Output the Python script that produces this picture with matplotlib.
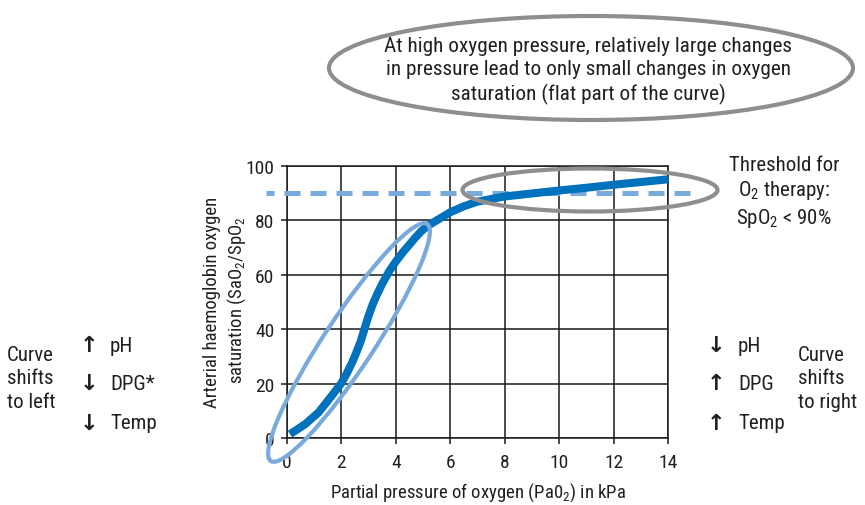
import matplotlib
matplotlib.use("Agg")
import matplotlib.pyplot as plt
from matplotlib.patches import Ellipse
from matplotlib import font_manager as fm

# pick the narrowest sans font available
entries = fm.fontManager.ttflist
names = {f.name for f in entries}
STRETCH = 'normal'
if 'Liberation Sans Narrow' in names:
    BASE = 'Liberation Sans Narrow'
elif 'Roboto Condensed' in names:
    BASE = 'Roboto Condensed'
elif any(f.name == 'DejaVu Sans' and str(f.stretch) in ('condensed', 'semi-condensed') for f in entries):
    BASE = 'DejaVu Sans'
    STRETCH = 'condensed'
elif any(f.name == 'Roboto' and str(f.stretch) in ('condensed', 'semi-condensed') for f in entries):
    BASE = 'Roboto'
    STRETCH = 'condensed'
else:
    BASE = 'Liberation Sans'
FONT = [BASE, 'DejaVu Sans']
plt.rcParams['font.family'] = FONT
plt.rcParams['font.stretch'] = STRETCH
plt.rcParams['mathtext.fontset'] = 'custom'
plt.rcParams['mathtext.rm'] = BASE
plt.rcParams['mathtext.it'] = BASE
plt.rcParams['mathtext.bf'] = BASE

# ---- data ----
pressure_kpa = [0.11, 0.67, 1.16, 1.65, 2.0, 2.2, 2.4, 2.55, 2.7, 2.89, 3.0, 3.14, 3.3,
                3.51, 3.75, 4.0, 4.25, 4.5, 4.7, 4.93, 5.2, 5.5, 6.0, 6.5, 7.0,
                8.0, 9.0, 10.0, 11.0, 12.0, 13.0, 14.0]
saturation = [1.4, 5.1, 9.4, 15.6, 20.2, 23.8, 27.9, 31.5, 35.3, 41.5, 45.0, 48.9, 52.6,
              56.9, 61.2, 64.9, 68.2, 71.1, 73.5, 76.0, 78.2, 80.0, 83.0, 85.2, 86.9,
              88.8, 89.9, 91.0, 92.0, 93.1, 94.1, 95.1]
threshold = 90
threshold_x = [-0.77, 14.92]
x_ticks = [0, 2, 4, 6, 8, 10, 12, 14]
y_ticks = [0, 20, 40, 60, 80, 100]

W, H = 865, 506
fig = plt.figure(figsize=(W / 100, H / 100), dpi=100)
fig.patch.set_facecolor('white')

L, R, T, B = 287, 668, 167, 439
ax = fig.add_axes([L / W, (H - B) / H, (R - L) / W, (B - T) / H])
ax.set_xlim(0, 14)
ax.set_ylim(0, 100)
ax.set_xticks(x_ticks)
ax.set_yticks(y_ticks)
ax.grid(True, color='#1a1a1a', linewidth=1.1)
ax.set_axisbelow(True)
for s in ax.spines.values():
    s.set_color('#1a1a1a')
    s.set_linewidth(1.1)
ax.tick_params(axis='both', direction='out', length=4, width=1.1, color='#1a1a1a',
               labelsize=14, labelcolor='#231f20')
ax.tick_params(axis='y', pad=5)
ax.tick_params(axis='x', pad=7)

ax.plot(threshold_x, [threshold, threshold], color='#7aaadc', linewidth=3.6,
        linestyle=(1.6, (3.2, 2.0)), dash_capstyle='butt', clip_on=False, zorder=3)
ax.plot(pressure_kpa, saturation, color='#0071bc', linewidth=5.8,
        solid_capstyle='butt', solid_joinstyle='round', clip_on=False, zorder=4)

# overlay in pixel coordinates (y up)
ov = fig.add_axes([0, 0, 1, 1], facecolor='none')
ov.set_xlim(0, W)
ov.set_ylim(0, H)
ov.axis('off')

def Y(y):
    return H - y

ov.add_patch(Ellipse((591, Y(69)), 524, 104, angle=0, fill=False,
                     edgecolor='#8e8e8e', linewidth=3.0))
ov.add_patch(Ellipse((590, Y(191)), 255, 43, angle=0, fill=False,
                     edgecolor='#8e8e8e', linewidth=3.0))
ov.add_patch(Ellipse((349, Y(343.5)), 284, 50, angle=56.6, fill=False,
                     edgecolor='#7aaadc', linewidth=3.0))

tc = '#231f20'
fs = 15
ov.text(588, Y(71), "At high oxygen pressure, relatively large changes\n"
        "in pressure lead to only small changes in oxygen\n"
        "saturation (flat part of the curve)", ha='center', va='center',
        fontsize=15.3, color=tc, linespacing=1.28)

ov.text(784, Y(193), "Threshold for\n$\\mathrm{O_2}$ therapy:\n$\\mathrm{SpO_2}$ < 90%",
        ha='center', va='center', fontsize=fs, color=tc, linespacing=1.25)

ov.text(7, Y(379), "Curve\nshifts\nto left", ha='left', va='center',
        fontsize=fs, color=tc, linespacing=1.28)
ov.text(798, Y(379), "Curve\nshifts\nto right", ha='left', va='center',
        fontsize=fs, color=tc, linespacing=1.28)

ARROWF = ['DejaVu Sans']
for (yy, arr, lab) in [(346, '↑', 'pH'), (384, '↓', 'DPG*'), (424, '↓', 'Temp')]:
    ov.text(80, Y(yy), arr, ha='left', va='center', fontsize=16, color=tc,
            family=ARROWF, fontweight='bold')
    ov.text(110, Y(yy), lab, ha='left', va='center', fontsize=fs, color=tc)
for (yy, arr, lab) in [(346, '↓', 'pH'), (384, '↑', 'DPG'), (424, '↑', 'Temp')]:
    ov.text(707, Y(yy), arr, ha='left', va='center', fontsize=16, color=tc,
            family=ARROWF, fontweight='bold')
    ov.text(738, Y(yy), lab, ha='left', va='center', fontsize=fs, color=tc)

ov.text(478, Y(493), "Partial pressure of oxygen ($\\mathrm{Pa0_2}$) in kPa",
        ha='center', va='center', fontsize=13.5, color=tc)
ov.text(212, Y(302), "Arterial haemoglobin oxygen", rotation=90,
        ha='center', va='center', fontsize=13.5, color=tc)
ov.text(237, Y(300), "saturation ($\\mathrm{SaO_2/SpO_2}$", rotation=90,
        ha='center', va='center', fontsize=13.5, color=tc)

fig.savefig('out.png', dpi=100)
